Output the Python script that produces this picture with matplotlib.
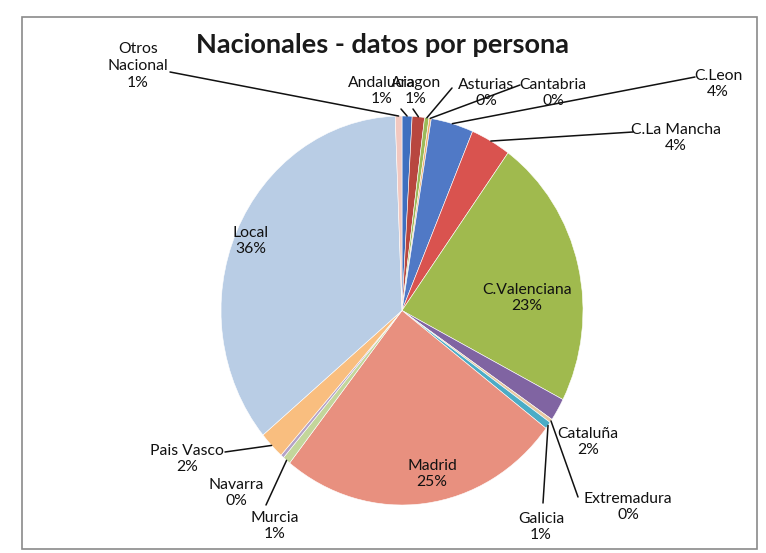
import matplotlib
matplotlib.use("Agg")
import matplotlib.pyplot as plt
import numpy as np
from matplotlib.patches import Rectangle

W, H = 766, 553

categories = ["Andalucia", "Aragon", "Asturias", "Cantabria", "C.Leon", "C.La Mancha",
              "C.Valenciana", "Cataluña", "Extremadura", "Galicia", "Madrid", "Murcia",
              "Navarra", "Pais Vasco", "Local", "Otros\nNacional"]
values = [0.9, 1.1, 0.4, 0.2, 3.8, 3.6, 22.7, 1.9, 0.3, 0.6, 25.4, 0.7, 0.3, 2.3, 35.6, 0.6]
pct_labels = ["1%", "1%", "0%", "0%", "4%", "4%", "23%", "2%", "0%", "1%", "25%", "1%",
              "0%", "2%", "36%", "1%"]
colors = ["#3F6FBF", "#B8473F", "#9BBB59", "#F0B070", "#5079C6", "#D9534F",
          "#A0BA4E", "#8064A2", "#E8C8A0", "#4BACC6", "#E8907F", "#C3D69B",
          "#B3A2C7", "#F9BE7F", "#B9CDE5", "#F2C8C0"]

# label centre (px) and leader anchor (px, or None)
label_pos = [(382, 91), (416, 91), (486, 93), (553, 93), (718, 84), (676, 138),
             (527, 298), (588, 442), (628, 507), (541, 527), (432, 474), (275, 526),
             (236, 493), (187, 459), (251, 241), (138, 66)]
leader_anchor = [(401, 109), (413, 109), (452, 88), (520, 85), (695, 77), (633, 132),
                 None, None, (578, 497), (543, 503), None, (266, 505),
                 None, (225, 452), None, (170, 72)]

fig = plt.figure(figsize=(W / 100, H / 100), dpi=100)
fig.patch.set_facecolor("white")

def fx(x, y):
    return (x / W, 1 - y / H)

# pie axes spanning the pie bounding box in pixels
pl, pr, pt, pb = 221, 583, 116, 505
ax = fig.add_axes([pl / W, 1 - pb / H, (pr - pl) / W, (pb - pt) / H])
wedges, _ = ax.pie(values, startangle=90, counterclock=False, colors=colors,
                   radius=1.0, wedgeprops=dict(edgecolor="white", linewidth=0.4))
ax.set_aspect("auto")
ax.set_xlim(-1, 1)
ax.set_ylim(-1, 1)
ax.axis("off")

font = ["Lato", "DejaVu Sans"]
for i, (cat, pct) in enumerate(zip(categories, pct_labels)):
    lx, ly = label_pos[i]
    fig.text(*fx(lx, ly), f"{cat}\n{pct}", ha="center", va="center", fontsize=11.3,
             family=font, color="#111111", linespacing=1.25)
    anc = leader_anchor[i]
    if anc is not None:
        w = wedges[i]
        th = np.deg2rad((w.theta1 + w.theta2) / 2)
        ax.annotate("", xy=(np.cos(th), np.sin(th)), xycoords="data",
                    xytext=fx(*anc), textcoords="figure fraction",
                    arrowprops=dict(arrowstyle="-", color="#111111", lw=1.1,
                                    shrinkA=0, shrinkB=0))

fig.text(*fx(383, 45), "Nacionales - datos por persona", ha="center", va="center",
         fontsize=19.5, fontweight="bold", family=font, color="#1a1a1a")

fig.patches.append(Rectangle(fx(22, 549), (757 - 22) / W, (549 - 17) / H,
                             transform=fig.transFigure, fill=False,
                             edgecolor="#8a8a8a", linewidth=1.2))

fig.savefig("out.png", dpi=100)
